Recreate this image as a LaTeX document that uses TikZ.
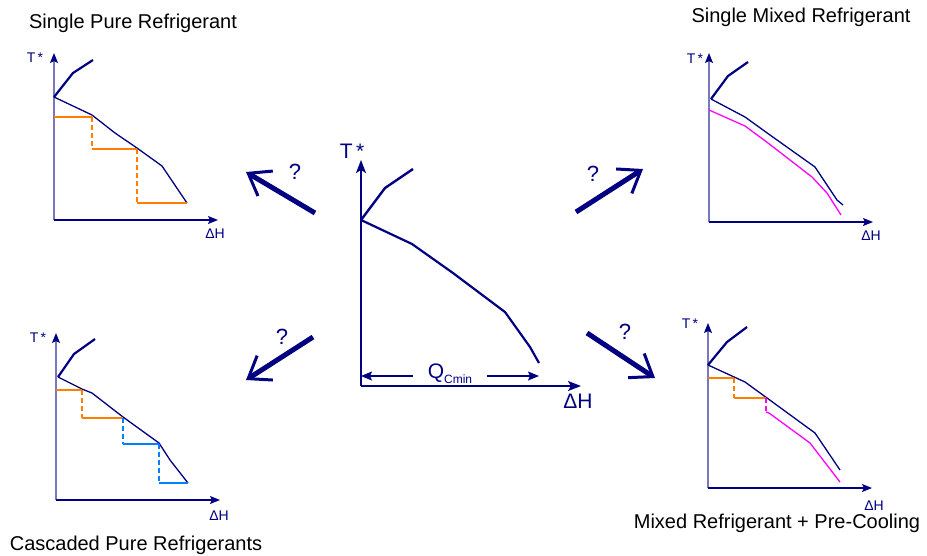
\documentclass[tikz,border=0pt]{standalone}
\usepackage{fontspec}
\setmainfont{Liberation Sans}
\usetikzlibrary{arrows.meta, positioning}

\definecolor{navy}{RGB}{0,0,128}
\definecolor{axisgrey}{RGB}{120,120,190}
\definecolor{purestep}{RGB}{255,128,0}
\definecolor{cascstep}{RGB}{0,128,255}
\definecolor{mixline}{RGB}{255,0,255}

\begin{document}
\begin{tikzpicture}[
    x=1pt, y=-1pt,
    axis/.style = {draw=navy, line width=1.3pt,
                   -{Stealth[length=10pt, width=8pt, inset=2pt, color=navy]}},
    yaxis/.style = {axis, draw=axisgrey},
    bigaxis/.style = {draw=navy, line width=1.6pt,
                      -{Stealth[length=13pt, width=10pt, inset=3pt]}},
    hot/.style = {draw=navy, line width=2.2pt, line join=round},
    cold/.style = {draw=navy, line width=1.3pt, line join=round},
    bighot/.style = {draw=navy, line width=2.4pt, line join=round},
    bigcold/.style = {draw=navy, line width=2.2pt, line join=round},
    pure/.style = {draw=purestep, line width=2pt},
    casc/.style = {draw=cascstep, line width=2pt},
    mix/.style = {draw=mixline, line width=1.3pt, line join=round},
    jump/.style = {dash pattern=on 5pt off 3pt},
    guess/.style = {draw=navy, line width=5pt,
                    -{Straight Barb[length=20pt, width=29pt, line width=3pt]}},
    qmark/.style = {text=navy, font=\fontsize{22}{22}\selectfont, inner sep=0pt},
    title/.style = {font=\fontsize{20}{24}\selectfont, anchor=base, inner sep=0pt},
    lab/.style = {text=navy, font=\fontsize{14}{14}\selectfont, anchor=base, inner sep=0pt},
    biglab/.style = {text=navy, font=\fontsize{21}{21}\selectfont, anchor=base, inner sep=0pt},
    qarr/.style = {draw=navy, line width=1.3pt, -{Stealth[length=11pt, width=9pt, inset=2pt]}},
]
\useasboundingbox (0,0) rectangle (927,555);

%% ---- Central problem: cold composite curve ----
\draw[bigaxis] (361,386) -- (361,160);
\draw[bigaxis] (361,386) -- (581,386);
\node[biglab] (cT) at (352,158) {T\,*};
\node[biglab] (cH) at (578,408) {ΔH};
\draw[bighot] (361,220) -- (385,188) -- (413,169);
\draw[bigcold] (361,220) -- (412,244) -- (453,273) -- (505,312) -- (530,347) -- (539,363);
\node[biglab, anchor=center, inner xsep=15pt] (qc) at (450,374)
    {Q{\fontsize{12}{12}\selectfont\raisebox{-5pt}{Cmin}}};
\coordinate (qleft)  at (361,376);
\coordinate (qright) at (539,376);
\draw[qarr] (qc.west |- qleft) -- (qleft);
\draw[qarr] (qc.east |- qright) -- (qright);

%% ---- Arrows to the four options ----
\coordinate (fromTL) at (315,213);  \coordinate (toTL) at (246,172);
\coordinate (fromBL) at (313,337);  \coordinate (toBL) at (246,380);
\coordinate (fromTR) at (576,212);  \coordinate (toTR) at (643,169);
\coordinate (fromBR) at (587,333);  \coordinate (toBR) at (655,378);
\draw[guess] (fromTL) -- (toTL);
\draw[guess] (fromBL) -- (toBL);
\draw[guess] (fromTR) -- (toTR);
\draw[guess] (fromBR) -- (toBR);
\node[qmark] (qTL) at (295,172) {?};
\node[qmark] (qBL) at (282,337) {?};
\node[qmark] (qTR) at (593,174) {?};
\node[qmark] (qBR) at (625,332) {?};

%% ---- Single pure refrigerant (top left) ----
\node[title] (tTL) at (133,28) {Single Pure Refrigerant};
\draw[yaxis] (54,220) -- (54,53);
\draw[axis]  (54,220) -- (218,220);
\node[lab] (yTL) at (35,62)  {T\,*};
\node[lab] (xTL) at (215,238) {ΔH};
\draw[hot]  (54,97) -- (73,73) -- (93,60);
\draw[cold] (54,97) -- (92,115) -- (115,133) -- (137,148) -- (162,166) -- (187,203);
\draw[pure] (54,117) -- (92,117);
\draw[pure, jump] (92,117) -- (92,149);
\draw[pure] (92,149) -- (137,149);
\draw[pure, jump] (137,149) -- (137,203);
\draw[pure] (137,203) -- (187,203);

%% ---- Single mixed refrigerant (top right) ----
\node[title] (tTR) at (801,22) {Single Mixed Refrigerant};
\draw[yaxis] (709,222) -- (709,53);
\draw[axis]  (709,222) -- (873,222);
\node[lab] (yTR) at (695,63)  {T\,*};
\node[lab] (xTR) at (871,240) {ΔH};
\draw[hot]  (711,99) -- (728,76) -- (748,62);
\draw[cold] (711,99) -- (745,117) -- (770,135) -- (815,167) -- (837,200) -- (843,205);
\draw[mix]  (709,110) -- (745,126) -- (768,143) -- (812,177) -- (827,193) -- (841,215);

%% ---- Cascaded pure refrigerants (bottom left) ----
\node[title] (tBL) at (136,550) {Cascaded Pure Refrigerants};
\draw[yaxis] (56,500) -- (56,333);
\draw[axis]  (56,500) -- (220,500);
\node[lab] (yBL) at (38,342)  {T\,*};
\node[lab] (xBL) at (219,520) {ΔH};
\draw[hot]  (58,377) -- (74,354) -- (95,339);
\draw[cold] (58,377) -- (82,389) -- (92,393) -- (123,417) -- (159,443) -- (170,460) -- (188,483);
\draw[pure] (56,390) -- (82,390);
\draw[pure, jump] (82,390) -- (82,418);
\draw[pure] (82,418) -- (123,418);
\draw[casc, jump] (123,418) -- (123,444);
\draw[casc] (123,444) -- (159,444);
\draw[casc, jump] (159,444) -- (159,483);
\draw[casc] (159,483) -- (188,483);

%% ---- Mixed refrigerant + pre-cooling (bottom right) ----
\node[title] (tBR) at (777,528) {Mixed Refrigerant + Pre-Cooling};
\draw[yaxis] (708,488) -- (708,323);
\draw[axis]  (708,488) -- (872,488);
\node[lab] (yBR) at (690,328) {T\,*};
\node[lab] (xBR) at (874,510) {ΔH};
\draw[hot]  (708,365) -- (727,342) -- (747,327);
\draw[cold] (708,365) -- (745,382) -- (767,398) -- (815,433) -- (840,470);
\draw[pure] (708,378) -- (734,378);
\draw[pure, jump] (734,378) -- (734,398);
\draw[pure] (734,398) -- (766,398);
\draw[mix, jump] (766,398) -- (766,412);
\draw[mix]  (766,412) -- (769,413) -- (810,443) -- (840,482);

\end{tikzpicture}
\end{document}
